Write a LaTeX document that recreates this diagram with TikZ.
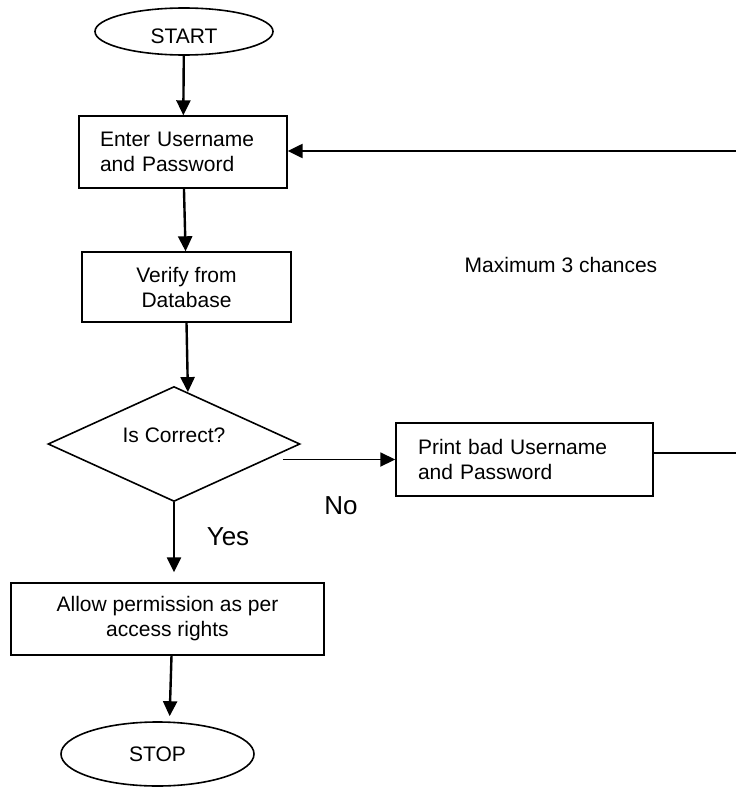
\documentclass[tikz,border=0pt]{standalone}
\usepackage{fontspec}
\setmainfont{Liberation Sans}
\usetikzlibrary{arrows.meta,calc,shapes.geometric}
\tikzset{
	terminal/.style={draw,ellipse,line width=1.6pt,inner sep=0pt},
	process/.style={draw,rectangle,line width=1.4pt,inner sep=0pt,align=center},
	leftbox/.style={process,align=left},
	decision/.style={draw,diamond,line width=1.6pt,inner sep=0pt,minimum width=252pt,minimum height=115pt},
	flow/.style={line width=2.4pt,-{Triangle[width=14pt,length=15pt]}},
}

\begin{document}
\begin{tikzpicture}[x=1pt,y=-1pt,font=\fontsize{21}{25}\selectfont]

	\fill[white] (0,0) rectangle (736,787);
	\useasboundingbox (0,0) rectangle (736,787);

	%Main column
	\node[terminal,minimum width=178pt,minimum height=47pt] (start) at (184,31.5) {\raisebox{-12pt}[0pt][0pt]{START}};
	\node[leftbox,text width=166pt,inner xsep=21pt,minimum height=72pt] (enter) at (183,152) {Enter Username\\and Password};
	\node[process,minimum width=209pt,minimum height=70pt] (verify) at (186.5,287) {Verify from\\Database};
	\node[decision] (check) at (174,444) {\raisebox{1.5pt}[0pt][0pt]{Is Correct?}};
	\node[process,minimum width=313pt,minimum height=72pt] (allow) at (167.5,619) {Allow permission as per\\access rights};
	\node[terminal,minimum width=193pt,minimum height=64pt] (stop) at (157.5,754) {STOP};

	%Bad login branch
	\node[leftbox,text width=213pt,inner xsep=22pt,minimum height=73pt] (bad) at (524.5,459.5) {Print bad Username\\and Password};
	\node (chances) at (561,265) {Maximum 3 chances};
	\node[font=\fontsize{26}{30}\selectfont] (no) at (341,506) {No};
	\node[font=\fontsize{26}{30}\selectfont] (yes) at (228,537) {Yes};

	\coordinate (rtop) at (736,151);
	\coordinate (rbot) at (736,453);

	\draw[flow] (start) -- (enter);
	\draw[flow] (enter) -- (verify);
	\draw[flow] (verify.south) -- (check.75);
	\draw[flow,shorten >=10pt] (check.south) -- (check.south |- allow.north);
	\draw[flow,shorten >=5pt] ([xshift=4pt]allow.south) -- ([xshift=12pt]stop.north);

	\draw[flow,line width=1.8pt] ($(check.east |- bad.west)+(-18,0)$) -- (bad.west);
	\draw[line width=1.2pt] (bad.east |- rbot) -- (rbot);
	\draw[flow] (rtop) -- (enter.east |- rtop);

\end{tikzpicture}
\end{document}
